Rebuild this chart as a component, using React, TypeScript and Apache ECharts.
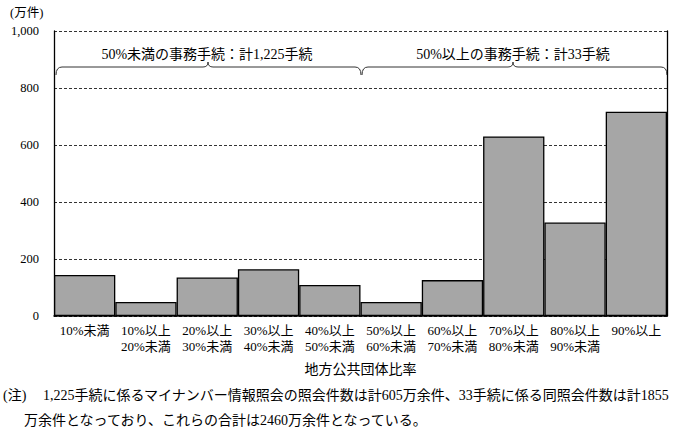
import React, { useEffect, useRef } from "react";
import * as echarts from "echarts";

const categories = [
  "10%未満",
  "10%以上\n20%未満",
  "20%以上\n30%未満",
  "30%以上\n40%未満",
  "40%以上\n50%未満",
  "50%以上\n60%未満",
  "60%以上\n70%未満",
  "70%以上\n80%未満",
  "80%以上\n90%未満",
  "90%以上",
];
const values = [144, 49, 135, 164, 109, 49, 126, 630, 328, 717];
const yMin = 0;
const yMax = 1000;
const yInterval = 200;
const unitLabel = "(万件)";
const axisName = "地方公共団体比率";
const braceLabels = ["50%未満の事務手続：計1,225手続", "50%以上の事務手続：計33手続"];
const noteHead = "(注)";
const noteLines = [
  "1,225手続に係るマイナンバー情報照会の照会件数は計605万余件、33手続に係る同照会件数は計1855",
  "万余件となっており、これらの合計は2460万余件となっている。",
];

const FONT = "'Liberation Serif', 'Noto Sans CJK JP', serif";

function bracePath(x1: number, xc: number, x2: number, yl: number, yt: number, yp: number) {
  const r = 6;
  return [
    `M ${x1} ${yt}`,
    `Q ${x1} ${yl} ${x1 + r} ${yl}`,
    `L ${xc - 5} ${yl}`,
    `Q ${xc} ${yl} ${xc} ${yp}`,
    `Q ${xc} ${yl} ${xc + 5} ${yl}`,
    `L ${x2 - r} ${yl}`,
    `Q ${x2} ${yl} ${x2} ${yt}`,
  ].join(" ");
}

let registered = false;
function registerBraces() {
  if (registered) return;
  registered = true;
  echarts.graphic.registerShape(
    "braceL",
    echarts.graphic.extendPath(bracePath(56, 208, 361, 67, 75, 62), {})
  );
  echarts.graphic.registerShape(
    "braceR",
    echarts.graphic.extendPath(bracePath(362, 513, 667, 67, 75, 62), {})
  );
}

export default function App() {
  const ref = useRef<HTMLDivElement>(null);
  useEffect(() => {
    if (!ref.current) return;
    registerBraces();
    const chart = echarts.init(ref.current, null, { renderer: "svg" });
    chart.setOption({
      animation: false,
      backgroundColor: "#ffffff",
      textStyle: { fontFamily: FONT, color: "#000" },
      grid: { left: 54, right: 29, top: 31, bottom: 123, containLabel: false },
      xAxis: {
        type: "category",
        data: categories,
        name: axisName,
        nameLocation: "middle",
        nameGap: 46,
        nameTextStyle: { fontFamily: FONT, fontSize: 14, color: "#000" },
        axisLine: { show: true, lineStyle: { color: "#000", width: 1.5 } },
        axisTick: { show: false },
        axisLabel: {
          interval: 0,
          margin: 7,
          fontFamily: FONT,
          fontSize: 13,
          lineHeight: 15.5,
          color: "#000",
        },
      },
      yAxis: [
        {
          type: "value",
          min: yMin,
          max: yMax,
          interval: yInterval,
          axisLine: { show: true, lineStyle: { color: "#000", width: 1.3 } },
          axisTick: { show: false },
          axisLabel: {
            margin: 15,
            fontFamily: FONT,
            fontSize: 12.5,
            color: "#000",
            formatter: (v: number) => v.toLocaleString("en-US"),
          },
          splitLine: {
            show: true,
            lineStyle: { color: "#333", type: [3, 2], width: 1 },
          },
        },
        {
          type: "value",
          min: yMin,
          max: yMax,
          interval: yInterval,
          position: "right",
          axisLine: { show: true, lineStyle: { color: "#000", width: 1.3 } },
          axisTick: { show: false },
          axisLabel: { show: false },
          splitLine: { show: false },
        },
      ],
      series: [
        {
          type: "bar",
          data: values,
          barWidth: "100%",
          barCategoryGap: "0%",
          itemStyle: { color: "#a6a6a6", borderColor: "#000", borderWidth: 1.3 },
        },
      ],
      graphic: [
        {
          type: "text",
          left: 10,
          top: 7,
          style: { text: unitLabel, font: `12.5px ${FONT}`, fill: "#000" },
        },
        { type: "braceL", x: 0, y: 0, style: { stroke: "#333", lineWidth: 1, fill: "none" } },
        { type: "braceR", x: 0, y: 0, style: { stroke: "#333", lineWidth: 1, fill: "none" } },
        {
          type: "text",
          x: 207,
          y: 54,
          style: {
            text: braceLabels[0],
            font: `14px ${FONT}`,
            fill: "#000",
            align: "center",
            verticalAlign: "middle",
          },
        },
        {
          type: "text",
          x: 513,
          y: 54,
          style: {
            text: braceLabels[1],
            font: `14px ${FONT}`,
            fill: "#000",
            align: "center",
            verticalAlign: "middle",
          },
        },
        {
          type: "text",
          x: 3,
          y: 395,
          style: { text: noteHead, font: `14px ${FONT}`, fill: "#000", verticalAlign: "middle" },
        },
        {
          type: "text",
          x: 43,
          y: 395,
          style: { text: noteLines[0], font: `14px ${FONT}`, fill: "#000", verticalAlign: "middle" },
        },
        {
          type: "text",
          x: 24,
          y: 420,
          style: { text: noteLines[1], font: `14px ${FONT}`, fill: "#000", verticalAlign: "middle" },
        },
      ],
    });
    return () => chart.dispose();
  }, []);
  return (
    <div
      ref={ref}
      style={{ position: "absolute", left: 0, top: 0, width: 696, height: 439 }}
    />
  );
}
